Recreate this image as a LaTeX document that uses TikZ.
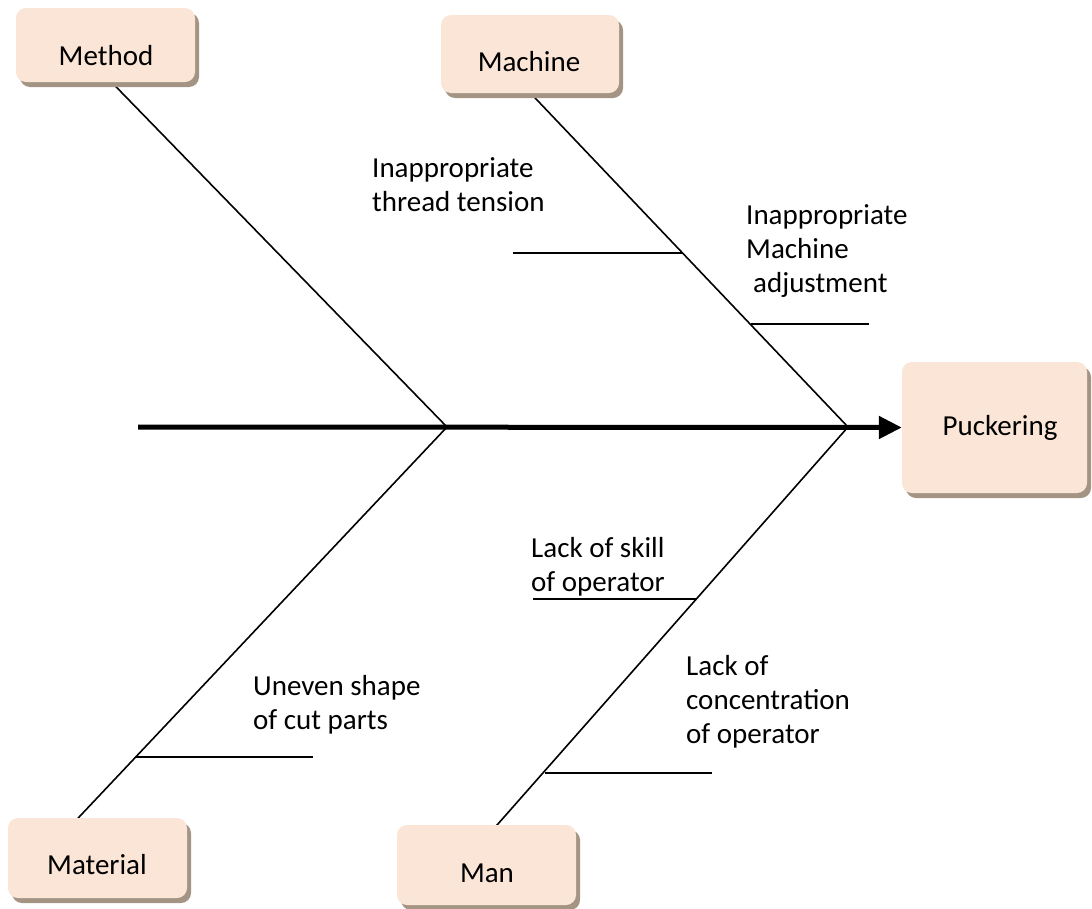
\documentclass[tikz,border=0pt]{standalone}
\usepackage{fontspec}
\setmainfont{Carlito}
\usetikzlibrary{arrows.meta,shadows}
\definecolor{boxfill}{HTML}{FBE5D6}
\definecolor{boxshade}{HTML}{A39483}
\begin{document}
\begin{tikzpicture}[x=1pt,y=-1pt,
  font=\fontsize{29}{34}\selectfont,
  catbox/.style={rectangle, rounded corners=10pt, fill=boxfill, draw=none, inner sep=0,
    drop shadow={shadow xshift=4pt, shadow yshift=-5pt, fill=boxshade, opacity=1}},
  boxtext/.style={anchor=base, inner sep=0},
  cause/.style={anchor=north west, inner sep=0, align=left},
  bone/.style={line width=1.6pt},
  rib/.style={line width=1.6pt},
  spine/.style={line width=5pt, -{Triangle[length=23pt,width=22pt]}}]
\useasboundingbox (0,0) rectangle (1092,908);

% junctions of the main bones on the spine
\coordinate (j1) at (447,427);
\coordinate (j2) at (848,427);
\coordinate (tail) at (138,427);

% far ends of the main bones (hidden under the category boxes)
\coordinate (methodEnd) at (90,60);
\coordinate (machineEnd) at (499,60);
\coordinate (materialEnd) at (48,850);
\coordinate (manEnd) at (475,850);

% ribs: free end and point on the bone
\coordinate (r1a) at (513,253);  \coordinate (r1b) at (682,253);
\coordinate (r2a) at (751,324);  \coordinate (r2b) at (869,324);
\coordinate (r3a) at (533,599);  \coordinate (r3b) at (697,599);
\coordinate (r4a) at (545,773);  \coordinate (r4b) at (712,773);
\coordinate (r5a) at (135,757);  \coordinate (r5b) at (313,757);

% main bones
\draw[bone] (j1) -- (methodEnd);
\draw[bone] (j2) -- (machineEnd);
\draw[bone] (j1) -- (materialEnd);
\draw[bone] (j2) -- (manEnd);

% ribs
\draw[rib] (r1a) -- (r1b);
\draw[rib] (r2a) -- (r2b);
\draw[rib] (r3a) -- (r3b);
\draw[rib] (r4a) -- (r4b);
\draw[rib] (r5a) -- (r5b);

% category boxes
\node[catbox, minimum width=179pt, minimum height=74pt] (method) at (105.5,45) {};
\node[catbox, minimum width=178pt, minimum height=78pt] (machine) at (530,54) {};
\node[catbox, minimum width=185pt, minimum height=131pt] (puck) at (994.5,427.5) {};
\node[catbox, minimum width=179pt, minimum height=80pt] (material) at (97.5,858) {};
\node[catbox, minimum width=179pt, minimum height=80pt] (man) at (486.5,865) {};

% spine with arrow into the effect box
\draw[spine] (tail) -- (puck.west);

% box labels
\node[boxtext] (methodT) at (106,65) {Method};
\node[boxtext] (machineT) at (529,71) {Machine};
\node[boxtext] (puckT) at (1000,435) {Puckering};
\node[boxtext] (materialT) at (97,874) {Material};
\node[boxtext] (manT) at (487,882) {Man};

% causes
\node[cause] (c1) at (372,153) {\strut Inappropriate\\thread tension};
\node[cause] (c2) at (746,200) {\strut Inappropriate\\Machine\\\hspace*{7pt}adjustment};
\node[cause] (c3) at (531,533) {\strut Lack of skill\\of operator};
\node[cause] (c4) at (686,651) {\strut Lack of\\concentration\\of operator};
\node[cause] (c5) at (253,671) {\strut Uneven shape\\of cut parts};
\end{tikzpicture}
\end{document}
